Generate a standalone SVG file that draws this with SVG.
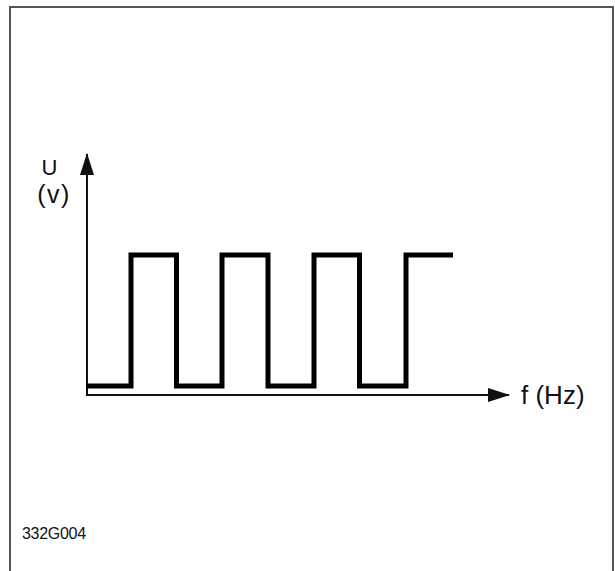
<svg xmlns="http://www.w3.org/2000/svg" width="615" height="571" viewBox="0 0 615 571">
<style>
.t{font-family:"Liberation Sans",Arial,sans-serif;fill:#111}
.ax{stroke:#111;stroke-width:2;fill:none}
.wave{stroke:#000;stroke-width:5;fill:none;stroke-linejoin:miter;stroke-linecap:butt}
</style>
<defs>
<marker id="ah" markerWidth="22" markerHeight="14" refX="21" refY="7" orient="auto" markerUnits="userSpaceOnUse">
<path d="M0,0 L22,7 L0,14 Z" fill="#111"/>
</marker>
</defs>
<rect x="0" y="0" width="615" height="571" fill="#fff"/>
<path d="M10,575 V7 H613 V575" fill="none" stroke="#555" stroke-width="2"/>
<g id="connectors">
<line class="ax" x1="87" y1="396" x2="87" y2="154" marker-end="url(#ah)"/>
<line class="ax" x1="86" y1="395" x2="509" y2="395" marker-end="url(#ah)"/>
</g>
<g id="signal">
<path class="wave" d="M86,386 H131 V255 H176.5 V386 H222 V255 H268 V386 H314 V255 H359.5 V386 H406 V255 H453"/>
</g>
<g id="y-label">
<text class="t" x="49.5" y="175" font-size="22" text-anchor="middle">U</text>
<text class="t" x="54" y="203" font-size="25" text-anchor="middle" letter-spacing="1.5">(v)</text>
</g>
<g id="x-label">
<text class="t" x="521" y="404" font-size="26">f (Hz)</text>
</g>
<g id="code">
<text class="t" x="22" y="539" font-size="16" letter-spacing="-0.3">332G004</text>
</g>
</svg>
